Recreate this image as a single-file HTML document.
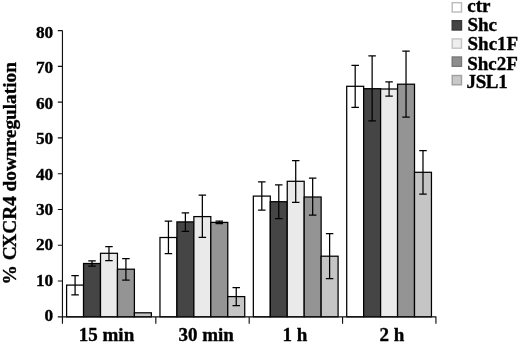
<!DOCTYPE html>
<html><head><meta charset="utf-8"><style>
html,body{margin:0;padding:0;background:#fff;width:520px;height:343px;overflow:hidden}
svg{display:block;will-change:transform}
text{font-family:"Liberation Serif",serif;font-weight:bold;fill:#000;stroke:#000;stroke-width:0.35px}
</style></head><body>
<svg width="520" height="343" viewBox="0 0 520 343">
<rect width="520" height="343" fill="#fff"/>
<rect x="66.60" y="285.10" width="16.95" height="31.70" fill="#ffffff" stroke="#000" stroke-width="1.25"/>
<rect x="83.55" y="263.50" width="16.95" height="53.30" fill="#454545" stroke="#000" stroke-width="1.25"/>
<rect x="100.50" y="253.30" width="16.95" height="63.50" fill="#eaeaea" stroke="#000" stroke-width="1.25"/>
<rect x="117.45" y="269.20" width="16.95" height="47.60" fill="#949494" stroke="#000" stroke-width="1.25"/>
<rect x="134.40" y="312.80" width="16.95" height="4.00" fill="#c5c5c5" stroke="#000" stroke-width="1.25"/>
<rect x="159.97" y="237.50" width="16.95" height="79.30" fill="#ffffff" stroke="#000" stroke-width="1.25"/>
<rect x="176.92" y="221.90" width="16.95" height="94.90" fill="#454545" stroke="#000" stroke-width="1.25"/>
<rect x="193.87" y="216.60" width="16.95" height="100.20" fill="#eaeaea" stroke="#000" stroke-width="1.25"/>
<rect x="210.82" y="222.40" width="16.95" height="94.40" fill="#949494" stroke="#000" stroke-width="1.25"/>
<rect x="227.77" y="296.60" width="16.95" height="20.20" fill="#c5c5c5" stroke="#000" stroke-width="1.25"/>
<rect x="253.34" y="196.10" width="16.95" height="120.70" fill="#ffffff" stroke="#000" stroke-width="1.25"/>
<rect x="270.29" y="201.70" width="16.95" height="115.10" fill="#454545" stroke="#000" stroke-width="1.25"/>
<rect x="287.24" y="181.30" width="16.95" height="135.50" fill="#eaeaea" stroke="#000" stroke-width="1.25"/>
<rect x="304.19" y="197.00" width="16.95" height="119.80" fill="#949494" stroke="#000" stroke-width="1.25"/>
<rect x="321.14" y="256.20" width="16.95" height="60.60" fill="#c5c5c5" stroke="#000" stroke-width="1.25"/>
<rect x="346.71" y="86.30" width="16.95" height="230.50" fill="#ffffff" stroke="#000" stroke-width="1.25"/>
<rect x="363.66" y="88.70" width="16.95" height="228.10" fill="#454545" stroke="#000" stroke-width="1.25"/>
<rect x="380.61" y="89.00" width="16.95" height="227.80" fill="#eaeaea" stroke="#000" stroke-width="1.25"/>
<rect x="397.56" y="84.20" width="16.95" height="232.60" fill="#949494" stroke="#000" stroke-width="1.25"/>
<rect x="414.51" y="172.30" width="16.95" height="144.50" fill="#c5c5c5" stroke="#000" stroke-width="1.25"/>
<path d="M75.08 275.50V294.90M71.33 275.50H78.83M71.33 294.90H78.83" stroke="#000" stroke-width="1.25" fill="none"/>
<path d="M92.03 260.90V266.10M88.28 260.90H95.78M88.28 266.10H95.78" stroke="#000" stroke-width="1.25" fill="none"/>
<path d="M108.97 246.60V260.60M105.22 246.60H112.72M105.22 260.60H112.72" stroke="#000" stroke-width="1.25" fill="none"/>
<path d="M125.92 258.50V280.10M122.17 258.50H129.68M122.17 280.10H129.68" stroke="#000" stroke-width="1.25" fill="none"/>
<path d="M168.44 221.10V253.70M164.69 221.10H172.19M164.69 253.70H172.19" stroke="#000" stroke-width="1.25" fill="none"/>
<path d="M185.39 212.80V231.30M181.64 212.80H189.14M181.64 231.30H189.14" stroke="#000" stroke-width="1.25" fill="none"/>
<path d="M202.34 195.20V237.30M198.59 195.20H206.09M198.59 237.30H206.09" stroke="#000" stroke-width="1.25" fill="none"/>
<path d="M219.29 221.10V223.60M215.54 221.10H223.04M215.54 223.60H223.04" stroke="#000" stroke-width="1.25" fill="none"/>
<path d="M236.24 287.70V305.70M232.49 287.70H239.99M232.49 305.70H239.99" stroke="#000" stroke-width="1.25" fill="none"/>
<path d="M261.81 181.90V210.00M258.06 181.90H265.56M258.06 210.00H265.56" stroke="#000" stroke-width="1.25" fill="none"/>
<path d="M278.77 184.90V218.70M275.02 184.90H282.52M275.02 218.70H282.52" stroke="#000" stroke-width="1.25" fill="none"/>
<path d="M295.72 160.60V202.30M291.97 160.60H299.47M291.97 202.30H299.47" stroke="#000" stroke-width="1.25" fill="none"/>
<path d="M312.67 178.10V215.20M308.92 178.10H316.42M308.92 215.20H316.42" stroke="#000" stroke-width="1.25" fill="none"/>
<path d="M329.62 233.50V278.60M325.87 233.50H333.37M325.87 278.60H333.37" stroke="#000" stroke-width="1.25" fill="none"/>
<path d="M355.19 65.30V107.40M351.44 65.30H358.94M351.44 107.40H358.94" stroke="#000" stroke-width="1.25" fill="none"/>
<path d="M372.13 55.80V120.90M368.38 55.80H375.88M368.38 120.90H375.88" stroke="#000" stroke-width="1.25" fill="none"/>
<path d="M389.08 81.80V96.20M385.33 81.80H392.83M385.33 96.20H392.83" stroke="#000" stroke-width="1.25" fill="none"/>
<path d="M406.03 51.00V117.10M402.28 51.00H409.78M402.28 117.10H409.78" stroke="#000" stroke-width="1.25" fill="none"/>
<path d="M422.99 150.50V194.20M419.24 150.50H426.74M419.24 194.20H426.74" stroke="#000" stroke-width="1.25" fill="none"/>
<path d="M62.45 30.5V323.8 M58 316.8H436.4 M57.8 316.80H62.45 M57.8 281.03H62.45 M57.8 245.25H62.45 M57.8 209.48H62.45 M57.8 173.70H62.45 M57.8 137.93H62.45 M57.8 102.15H62.45 M57.8 66.38H62.45 M57.8 30.60H62.45 M155.82 316.8V323.8 M249.19 316.8V323.8 M342.56 316.8V323.8 M435.93 316.8V323.8" stroke="#111" stroke-width="1.15" fill="none"/>
<text x="53.2" y="321.00" text-anchor="end" font-size="17.3">0</text>
<text x="53.2" y="285.64" text-anchor="end" font-size="17.3">10</text>
<text x="53.2" y="250.28" text-anchor="end" font-size="17.3">20</text>
<text x="53.2" y="214.92" text-anchor="end" font-size="17.3">30</text>
<text x="53.2" y="179.56" text-anchor="end" font-size="17.3">40</text>
<text x="53.2" y="144.20" text-anchor="end" font-size="17.3">50</text>
<text x="53.2" y="108.84" text-anchor="end" font-size="17.3">60</text>
<text x="53.2" y="73.48" text-anchor="end" font-size="17.3">70</text>
<text x="53.2" y="38.12" text-anchor="end" font-size="17.3">80</text>
<text x="106.5" y="340.9" text-anchor="middle" font-size="19">15 min</text>
<text x="206.1" y="340.9" text-anchor="middle" font-size="19">30 min</text>
<text x="294.9" y="340.9" text-anchor="middle" font-size="19">1 h</text>
<text x="391.9" y="340.9" text-anchor="middle" font-size="19">2 h</text>
<text transform="translate(15.6 283.7) rotate(-90)" font-size="19.3" x="-0.85 18.45 23.425 36.063">% CXCR4 downregulation</text>
<rect x="452.2" y="2.70" width="9.3" height="9.3" fill="#ffffff" stroke="#bbbbbb" stroke-width="1.4"/>
<text x="467.3" y="12.0" font-size="19" letter-spacing="0">ctr</text>
<rect x="452.2" y="20.70" width="9.3" height="9.3" fill="#444444" stroke="#383838" stroke-width="1.4"/>
<text x="467.4" y="30.9" font-size="19" letter-spacing="0">Shc</text>
<rect x="452.2" y="38.90" width="9.3" height="9.3" fill="#eeeeee" stroke="#c4c4c4" stroke-width="1.4"/>
<text x="467.5" y="50.4" font-size="19" letter-spacing="0">Shc1F</text>
<rect x="452.2" y="57.00" width="9.3" height="9.3" fill="#8e8e8e" stroke="#787878" stroke-width="1.4"/>
<text x="467.2" y="69.6" font-size="19" letter-spacing="0">Shc2F</text>
<rect x="452.2" y="75.50" width="9.3" height="9.3" fill="#c8c8c8" stroke="#a0a0a0" stroke-width="1.4"/>
<text x="466.6" y="87.7" font-size="19" letter-spacing="-0.4">JSL1</text>
</svg>
</body></html>
